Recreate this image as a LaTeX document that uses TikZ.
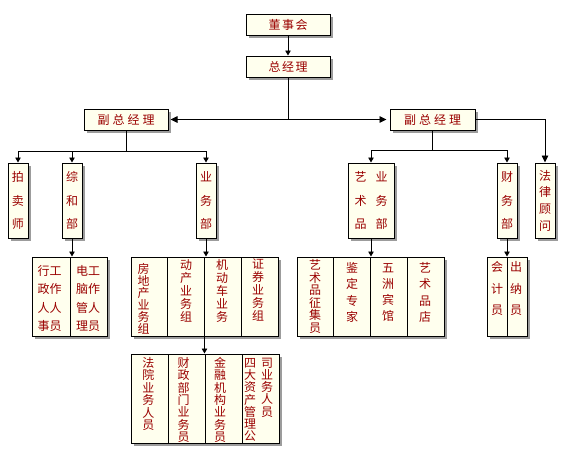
\documentclass[tikz,border=0pt]{standalone}
\usepackage{fontspec}
\setmainfont{Noto Sans CJK SC}
\usetikzlibrary{arrows.meta,shadows,calc}
\definecolor{txt}{HTML}{9A0000}
\definecolor{bx}{HTML}{FFFFEE}
\newcommand\myhs{\hspace{1.5pt}}
\newcommand\myhw{\hspace{3pt}}
\tikzset{
 box/.style={draw=black, line width=1pt, fill=bx,
   drop shadow={shadow xshift=3pt, shadow yshift=-3pt, fill=black!55, opacity=0.7},
   inner sep=0pt, text=txt, align=center},
 cell/.style={draw=black, line width=0.9pt, inner sep=0pt},
 vt/.style={text=txt, inner sep=0pt, align=center},
 conn/.style={line width=0.9pt},
 arr/.style={conn, -{Triangle[length=5pt,width=5.5pt]}},
 bigarr/.style={conn, -{Triangle[length=7pt,width=6.5pt]}},
}
\begin{document}
\begin{tikzpicture}[x=1pt,y=-1pt]
\useasboundingbox (0,0) rectangle (562,455);
\fill[white] (0,0) rectangle (562,455);

% top boxes
\node[box, minimum width=84pt, minimum height=21pt, font=\fontsize{12}{13}\selectfont] (dsh) at (288,24.5) {董\myhs 事\myhs 会};
\node[box, minimum width=84pt, minimum height=21pt, font=\fontsize{12}{13}\selectfont] (zjl) at (288,66.5) {总\myhs 经\myhs 理};
\node[box, minimum width=84pt, minimum height=21pt, font=\fontsize{12}{13}\selectfont] (fzL) at (126,119.5) {副\myhw 总\myhw 经\myhw 理};
\node[box, minimum width=85pt, minimum height=21pt, font=\fontsize{12}{13}\selectfont] (fzR) at (432.5,119.5) {副\myhw 总\myhw 经\myhw 理};

% second row
\node[box, minimum width=20pt, minimum height=75pt, font=\fontsize{12}{23.5}\selectfont] (pms) at (18,200.5) {拍\\卖\\师};
\node[box, minimum width=20pt, minimum height=75pt, font=\fontsize{12}{23.5}\selectfont] (zhb) at (72,200.5) {综\\和\\部};
\node[box, minimum width=20pt, minimum height=75pt, font=\fontsize{12}{23.5}\selectfont] (ywL) at (206,200.5) {业\\务\\部};
\node[box, minimum width=46pt, minimum height=75pt, font=\fontsize{12}{23.5}\selectfont] (ysp) at (371,200.5) {艺\hspace{9pt}业\\术\hspace{9pt}务\\品\hspace{9pt}部};
\node[box, minimum width=20pt, minimum height=75pt, font=\fontsize{12}{23.5}\selectfont] (cwb) at (507,200.5) {财\\务\\部};
\node[box, minimum width=20pt, minimum height=75pt, font=\fontsize{12}{16.7}\selectfont] (flgw) at (545,200.5) {法\\律\\顾\\问};

% group 1
\node[box, minimum width=75pt, minimum height=79pt] (g1) at (69.5,296.5) {};
\node[cell, minimum width=38pt, minimum height=79pt] (c11) at (51,296.5) {};
\node[cell, minimum width=37pt, minimum height=79pt] (c12) at (88.5,296.5) {};
\node[vt, font=\fontsize{12}{18.6}\selectfont] (t11) at (49.5,298.5) {行工\\政作\\人人\\事员};
\node[vt, font=\fontsize{12}{18.6}\selectfont] (t12) at (88,298.5) {电工\\脑作\\管人\\理员};

% group 2
\node[box, minimum width=147pt, minimum height=79pt] (g2) at (204.5,296.5) {};
\node[cell, minimum width=36.75pt, minimum height=79pt] (c21) at (149.375,296.5) {};
\node[cell, minimum width=36.75pt, minimum height=79pt] (c22) at (186.125,296.5) {};
\node[cell, minimum width=36.75pt, minimum height=79pt] (c23) at (222.875,296.5) {};
\node[cell, minimum width=36.75pt, minimum height=79pt] (c24) at (259.625,296.5) {};
\node[vt, font=\fontsize{12}{12}\selectfont] (t21) at (143.5,298.5) {房\\地\\产\\业\\务\\组};
\node[vt, font=\fontsize{12}{13}\selectfont] (t22) at (186,291) {动\\产\\业\\务\\组};
\node[vt, font=\fontsize{12}{13}\selectfont] (t23) at (222,291) {机\\动\\车\\业\\务};
\node[vt, font=\fontsize{12}{13}\selectfont] (t24) at (258,290) {证\\券\\业\\务\\组};

% group 3
\node[box, minimum width=148pt, minimum height=89pt] (g3) at (205,398.5) {};
\node[cell, minimum width=37pt, minimum height=89pt] (c31) at (149.5,398.5) {};
\node[cell, minimum width=37pt, minimum height=89pt] (c32) at (186.5,398.5) {};
\node[cell, minimum width=37pt, minimum height=89pt] (c33) at (223.5,398.5) {};
\node[cell, minimum width=37pt, minimum height=89pt] (c34) at (260.5,398.5) {};
\node[vt, font=\fontsize{12}{12.4}\selectfont] (t31) at (148.3,394) {法\\院\\业\\务\\人\\员};
\node[vt, font=\fontsize{12}{12.3}\selectfont] (t32) at (183.5,400) {财\\政\\部\\门\\业\\务\\员};
\node[vt, font=\fontsize{12}{12.3}\selectfont] (t33) at (220,400) {金\\融\\机\\构\\业\\务\\员};
\node[vt, font=\fontsize{12}{12.3}\selectfont] (t34) at (250,400) {四\\大\\资\\产\\管\\理\\公};
\node[vt, font=\fontsize{12}{12.3}\selectfont] (t35) at (267,387.5) {司\\业\\务\\人\\员};

% group 4
\node[box, minimum width=147pt, minimum height=79pt] (g4) at (370.5,296.5) {};
\node[cell, minimum width=36.75pt, minimum height=79pt] (c41) at (315.375,296.5) {};
\node[cell, minimum width=36.75pt, minimum height=79pt] (c42) at (352.125,296.5) {};
\node[cell, minimum width=36.75pt, minimum height=79pt] (c43) at (388.875,296.5) {};
\node[cell, minimum width=36.75pt, minimum height=79pt] (c44) at (425.625,296.5) {};
\node[vt, font=\fontsize{12}{12.6}\selectfont] (t41) at (315,296.5) {艺\\术\\品\\征\\集\\员};
\node[vt, font=\fontsize{12}{16.3}\selectfont] (t42) at (352,292.5) {鉴\\定\\专\\家};
\node[vt, font=\fontsize{12}{16.3}\selectfont] (t43) at (388,292.5) {五\\洲\\宾\\馆};
\node[vt, font=\fontsize{12}{16.3}\selectfont] (t44) at (425,292.5) {艺\\术\\品\\店};

% group 5
\node[box, minimum width=40pt, minimum height=79pt] (g5) at (507,296.5) {};
\node[cell, minimum width=20pt, minimum height=79pt] (c51) at (497,296.5) {};
\node[cell, minimum width=20pt, minimum height=79pt] (c52) at (517,296.5) {};
\node[vt, font=\fontsize{12}{21.7}\selectfont] (t51) at (497,288.5) {会\\计\\员};
\node[vt, font=\fontsize{12}{21.7}\selectfont] (t52) at (516,288.5) {出\\纳\\员};

% connectors
\draw[arr] (dsh) -- (zjl);
\draw[conn] (zjl.south) -- (zjl.south |- fzL.east);
\draw[conn, {Triangle[length=7pt,width=6.5pt]}-{Triangle[length=7pt,width=6.5pt]}, shorten <=2pt, shorten >=3pt] (fzL.east) -- (fzR.west);

\draw[conn] (fzL.south) -- ++(0,20.5) coordinate (bl);
\draw[conn] (pms.north |- bl) -- (ywL.north |- bl);
\draw[arr] (pms.north |- bl) -- (pms.north);
\draw[arr] (zhb.north |- bl) -- (zhb.north);
\draw[arr] (ywL.north |- bl) -- (ywL.north);

\draw[conn] (fzR.south) -- ++(0,19.5) coordinate (br);
\draw[conn] (ysp.north |- br) -- (cwb.north |- br);
\draw[arr] (ysp.north |- br) -- (ysp.north);
\draw[arr] (cwb.north |- br) -- (cwb.north);
\draw[bigarr] (fzR.east) -| (flgw.north);

\draw[arr] (zhb.south) -- (zhb.south |- g1.north);
\draw[arr] (ywL.south) -- (ywL.south |- g2.north);
\draw[arr] (g2.south) -- (g2.south |- g3.north);
\draw[arr] (ysp.south) -- (ysp.south |- g4.north);
\draw[arr] (cwb.south) -- (cwb.south |- g5.north);
\end{tikzpicture}
\end{document}
